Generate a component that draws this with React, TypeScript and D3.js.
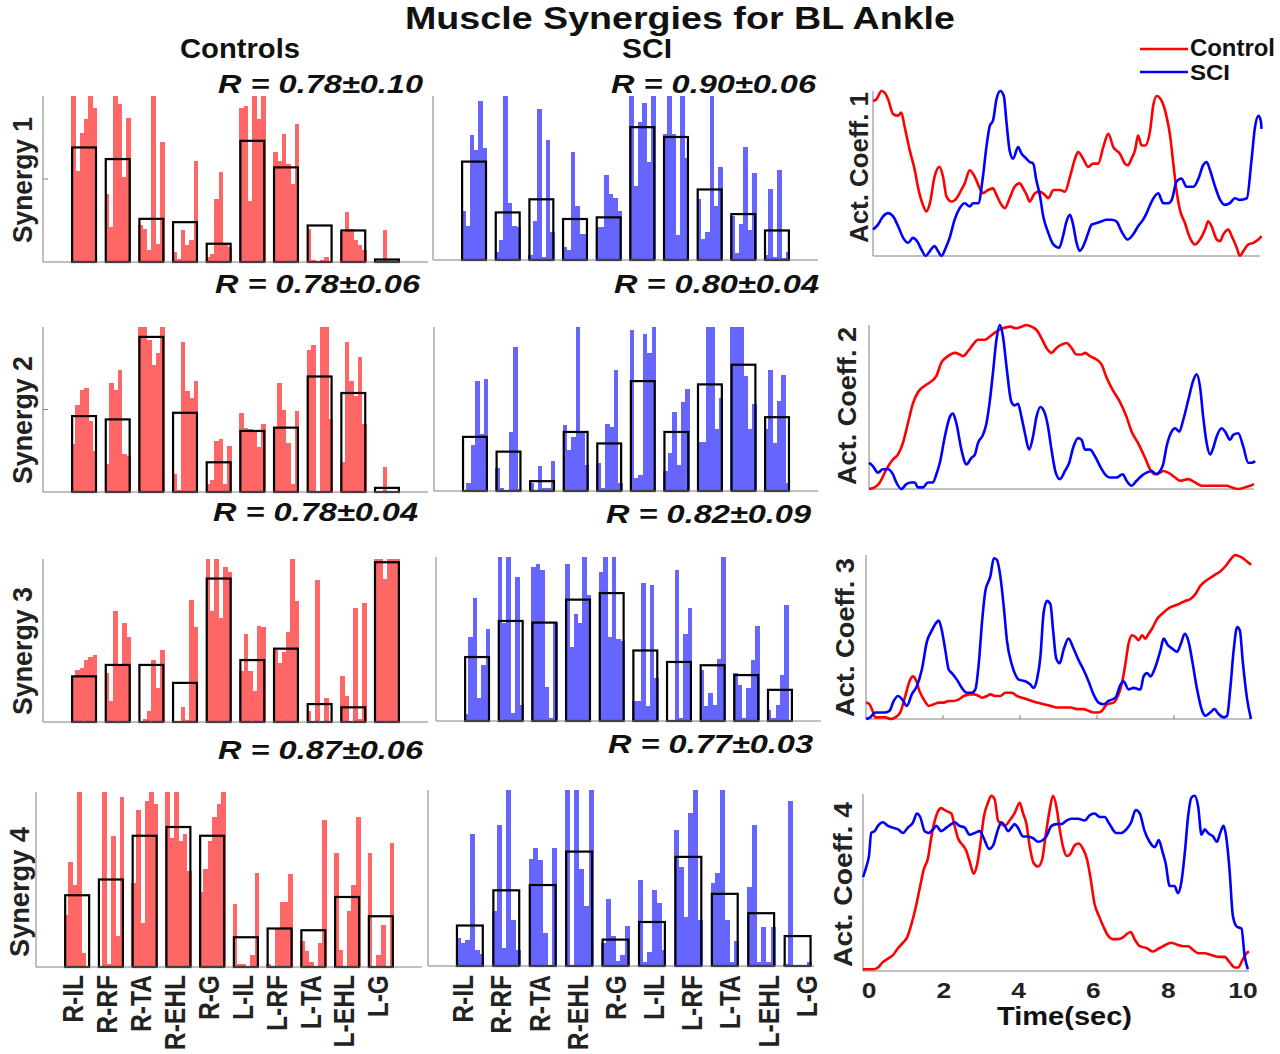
import React from 'react';
import * as d3 from 'd3';

type Pt = [number, number];

const muscles = ['R-IL', 'R-RF', 'R-TA', 'R-EHL', 'R-G', 'L-IL', 'L-RF', 'L-TA', 'L-EHL', 'L-G'];
const timeTicks = [0, 2, 4, 6, 8, 10];

// Mean synergy weights (black outlined bars)
const ctrlMeanS1 = [0.69, 0.62, 0.26, 0.24, 0.11, 0.73, 0.57, 0.22, 0.19, 0.015];
const ctrlMeanS2 = [0.46, 0.44, 0.94, 0.48, 0.18, 0.37, 0.39, 0.70, 0.60, 0.025];
const ctrlMeanS3 = [0.28, 0.35, 0.35, 0.24, 0.88, 0.38, 0.45, 0.11, 0.09, 0.98];
const ctrlMeanS4 = [0.41, 0.50, 0.75, 0.80, 0.75, 0.17, 0.22, 0.21, 0.40, 0.29];
const sciMeanS1 = [0.60, 0.29, 0.37, 0.25, 0.26, 0.81, 0.75, 0.43, 0.28, 0.18];
const sciMeanS2 = [0.33, 0.24, 0.06, 0.36, 0.29, 0.67, 0.36, 0.65, 0.77, 0.45];
const sciMeanS3 = [0.39, 0.61, 0.60, 0.74, 0.78, 0.43, 0.36, 0.34, 0.28, 0.19];
const sciMeanS4 = [0.23, 0.43, 0.46, 0.65, 0.15, 0.25, 0.62, 0.41, 0.30, 0.17];

// Individual subject weights (6 per muscle)
const ctrlSubjS1 = [
  [1.0, 0.55, 0.78, 0.86, 1.0, 0.93], [0.41, 0.21, 1.0, 0.95, 0.51, 0.87], [0.22, 0.2, 0.07, 1.0, 0.11, 0.72],
  [0.06, 0.02, 0.19, 0.1, 0.13, 0.61], [0.03, 0.05, 0.38, 0.54, 0.11, 0.09], [0.93, 0.94, 0.37, 1.0, 0.86, 1.0],
  [0.66, 0.61, 0.77, 0.59, 0.47, 0.83], [0.2, 0.01, 0.0, 0.01, 0.03, 0.0], [0.18, 0.3, 0.2, 0.13, 0.1, 0.07],
  [0.0, 0.0, 0.19, 0.0, 0.0, 0.0],
];
const ctrlSubjS2 = [
  [0.29, 0.53, 0.62, 0.63, 0.43, 0.25], [0.17, 0.66, 0.62, 0.74, 0.23, 0.22], [1.0, 1.0, 0.92, 0.77, 0.84, 1.0],
  [0.11, 0.01, 0.91, 0.61, 0.57, 0.67], [0.05, 0.07, 0.31, 0.32, 0.05, 0.28], [0.48, 0.39, 0.38, 0.37, 0.27, 0.41],
  [0.39, 0.66, 0.5, 0.3, 0.05, 0.49], [0.86, 0.89, 0.0, 1.0, 1.0, 0.44], [0.18, 0.91, 0.67, 0.58, 0.82, 0.41],
  [0.0, 0.0, 0.15, 0.0, 0.0, 0.0],
];
const ctrlSubjS3 = [
  [0.28, 0.32, 0.33, 0.38, 0.4, 0.41], [0.3, 0.13, 0.68, 0.35, 0.61, 0.52], [0.0, 0.02, 0.07, 0.38, 0.21, 0.44],
  [0.0, 0.0, 0.09, 0.01, 0.75, 0.58], [1.0, 0.68, 1.0, 0.64, 0.95, 0.92], [0.31, 0.54, 0.31, 0.19, 0.59, 0.58],
  [0.44, 0.36, 0.43, 0.55, 1.0, 0.74], [0.07, 0.0, 0.87, 0.0, 0.15, 0.0], [0.28, 0.16, 0.0, 0.7, 0.02, 0.73],
  [1.0, 1.0, 0.88, 1.0, 1.0, 1.0],
];
const ctrlSubjS4 = [
  [0.3, 0.6, 0.47, 1.0, 0.08, 0.0], [0.0, 1.0, 0.02, 0.75, 0.18, 0.97], [0.48, 0.9, 0.25, 0.95, 1.0, 0.93],
  [1.0, 0.74, 1.0, 0.72, 0.76, 0.55], [0.43, 0.56, 0.72, 0.86, 0.93, 1.0], [0.36, 0.02, 0.02, 0.0, 0.07, 0.54],
  [0.02, 0.0, 0.22, 0.37, 0.37, 0.53], [0.15, 0.09, 0.03, 0.0, 0.14, 0.84], [0.65, 0.1, 0.0, 0.32, 0.47, 0.86],
  [0.65, 0.0, 0.07, 0.24, 0.0, 0.71],
];
const sciSubjS1 = [
  [0.3, 0.21, 0.76, 0.67, 0.97, 0.68], [0.05, 0.12, 1.0, 0.35, 0.21, 0.2], [0.03, 0.24, 0.92, 0.02, 0.73, 0.17],
  [0.08, 0.06, 0.66, 0.33, 0.16, 0.16], [0.2, 0.2, 0.52, 0.4, 0.38, 0.3], [1.0, 0.45, 0.84, 0.96, 0.6, 1.0],
  [0.77, 1.0, 0.77, 0.15, 1.0, 0.62], [0.37, 0.13, 0.17, 1.0, 0.33, 0.57], [0.27, 0.04, 0.22, 0.69, 0.18, 0.53],
  [0.03, 0.43, 0.02, 0.55, 0.01, 0.05],
];
const sciSubjS2 = [
  [0.0, 0.05, 0.28, 0.67, 0.35, 0.68], [0.14, 0.02, 0.0, 0.36, 0.88, 0.01], [0.05, 0.0, 0.15, 0.02, 0.02, 0.18],
  [0.4, 0.25, 0.33, 1.0, 0.36, 0.16], [0.17, 0.02, 0.41, 0.39, 0.74, 0.05], [0.98, 0.08, 0.1, 0.96, 0.84, 1.0],
  [0.12, 0.23, 0.48, 0.16, 0.54, 0.62], [0.3, 0.3, 1.0, 1.0, 0.38, 0.57], [1.0, 1.0, 1.0, 0.7, 0.38, 0.53],
  [0.38, 0.74, 0.29, 0.55, 0.71, 0.05],
];
const sciSubjS3 = [
  [0.04, 0.51, 0.75, 0.14, 0.34, 0.56], [1.0, 0.6, 1.0, 0.05, 0.88, 0.1], [0.94, 0.96, 0.92, 0.21, 0.02, 0.6],
  [0.96, 0.45, 0.65, 0.6, 1.0, 0.77], [0.91, 1.0, 0.51, 1.0, 0.5, 0.49], [0.12, 0.12, 0.84, 0.09, 0.83, 0.26],
  [0.0, 0.0, 0.92, 0.02, 0.53, 0.69], [0.31, 0.09, 0.17, 0.1, 0.38, 1.0], [0.29, 0.22, 0.02, 0.2, 0.37, 0.58],
  [0.07, 0.02, 0.1, 0.28, 0.71, 0.0],
];
const sciSubjS4 = [
  [0.16, 0.13, 0.15, 0.75, 0.09, 0.07], [0.31, 0.8, 0.1, 1.0, 0.26, 0.09], [0.61, 0.67, 0.6, 0.19, 0.0, 0.67],
  [1.0, 0.0, 1.0, 0.55, 0.34, 1.0], [0.13, 0.38, 0.17, 0.03, 0.06, 0.23], [0.49, 0.02, 0.08, 0.43, 0.36, 0.09],
  [0.77, 0.56, 0.28, 0.87, 1.0, 0.26], [0.47, 0.53, 1.0, 0.26, 0.02, 0.14], [0.45, 0.8, 0.02, 0.22, 0.02, 0.22],
  [0.01, 0.94, 0.0, 0.0, 0.0, 0.02],
];

// Correlation labels
const rTexts = ['R = 0.78±0.10', 'R = 0.90±0.06', 'R = 0.78±0.06', 'R = 0.80±0.04', 'R = 0.78±0.04', 'R = 0.82±0.09', 'R = 0.87±0.06', 'R = 0.77±0.03'];

// Activation coefficients [time (s), normalized]
const ctrlAct1: Pt[] = [[0,0.94],[0.09,0.95],[0.22,1.0],[0.30,0.99],[0.39,0.95],[0.52,0.86],[0.65,0.85],[0.73,0.87],[0.82,0.78],[0.95,0.64],[1.08,0.52],[1.16,0.42],[1.29,0.31],[1.38,0.27],[1.47,0.32],[1.59,0.48],[1.72,0.54],[1.81,0.48],[1.90,0.36],[2.03,0.33],[2.16,0.35],[2.28,0.40],[2.37,0.44],[2.50,0.52],[2.63,0.48],[2.76,0.41],[2.84,0.38],[2.97,0.40],[3.10,0.41],[3.19,0.37],[3.32,0.31],[3.41,0.29],[3.53,0.35],[3.66,0.42],[3.79,0.44],[3.88,0.41],[3.97,0.37],[4.05,0.33],[4.18,0.38],[4.31,0.39],[4.44,0.37],[4.53,0.35],[4.66,0.40],[4.83,0.40],[4.96,0.39],[5.09,0.48],[5.22,0.59],[5.30,0.63],[5.43,0.59],[5.56,0.54],[5.69,0.56],[5.82,0.56],[5.95,0.66],[6.08,0.74],[6.21,0.66],[6.38,0.62],[6.51,0.56],[6.59,0.55],[6.68,0.59],[6.77,0.64],[6.85,0.73],[6.94,0.67],[7.03,0.67],[7.16,0.76],[7.24,0.91],[7.33,0.97],[7.46,0.94],[7.59,0.84],[7.67,0.74],[7.76,0.56],[7.84,0.40],[7.93,0.28],[8.06,0.20],[8.19,0.11],[8.32,0.07],[8.45,0.10],[8.58,0.16],[8.66,0.21],[8.75,0.18],[8.88,0.10],[8.97,0.09],[9.05,0.13],[9.18,0.16],[9.27,0.12],[9.40,0.05],[9.48,0.0],[9.57,0.03],[9.70,0.07],[9.83,0.08],[9.96,0.10],[10.04,0.12]];
const sciAct1: Pt[] = [[0,0.16],[0.13,0.19],[0.26,0.24],[0.39,0.26],[0.52,0.24],[0.65,0.18],[0.78,0.11],[0.91,0.08],[1.03,0.11],[1.14,0.09],[1.25,0.04],[1.36,0.0],[1.47,0.03],[1.59,0.06],[1.68,0.03],[1.77,0.0],[1.88,0.05],[1.98,0.11],[2.11,0.22],[2.24,0.29],[2.37,0.32],[2.50,0.30],[2.59,0.32],[2.72,0.32],[2.84,0.48],[2.93,0.66],[3.02,0.79],[3.10,0.82],[3.19,0.95],[3.29,1.0],[3.38,0.97],[3.45,0.81],[3.53,0.64],[3.62,0.59],[3.75,0.66],[3.84,0.62],[3.92,0.60],[4.05,0.57],[4.14,0.56],[4.22,0.46],[4.31,0.37],[4.40,0.24],[4.53,0.14],[4.66,0.07],[4.81,0.05],[4.91,0.12],[5.00,0.21],[5.09,0.25],[5.17,0.19],[5.26,0.08],[5.34,0.03],[5.47,0.08],[5.56,0.14],[5.65,0.19],[5.78,0.20],[5.91,0.21],[6.03,0.22],[6.16,0.22],[6.29,0.21],[6.42,0.15],[6.58,0.10],[6.72,0.13],[6.85,0.18],[6.98,0.22],[7.07,0.26],[7.20,0.33],[7.37,0.38],[7.50,0.32],[7.63,0.32],[7.72,0.34],[7.84,0.45],[7.97,0.47],[8.10,0.42],[8.28,0.42],[8.41,0.47],[8.53,0.55],[8.62,0.57],[8.71,0.52],[8.84,0.42],[8.97,0.34],[9.09,0.31],[9.22,0.32],[9.35,0.35],[9.48,0.34],[9.66,0.35],[9.78,0.58],[9.87,0.78],[9.96,0.85],[10.02,0.82],[10.04,0.77]];
const ctrlAct2: Pt[] = [[0,0],[0.15,0.01],[0.28,0.04],[0.45,0.12],[0.62,0.18],[0.75,0.21],[0.88,0.28],[1.01,0.40],[1.14,0.52],[1.27,0.59],[1.45,0.63],[1.58,0.65],[1.75,0.69],[1.88,0.77],[2.05,0.81],[2.23,0.83],[2.36,0.82],[2.44,0.81],[2.57,0.84],[2.70,0.88],[2.83,0.91],[3.01,0.91],[3.14,0.93],[3.31,0.96],[3.48,0.98],[3.66,0.99],[3.83,0.98],[3.96,0.99],[4.09,1.0],[4.22,0.99],[4.35,0.97],[4.48,0.92],[4.61,0.86],[4.74,0.83],[4.87,0.86],[5.00,0.88],[5.13,0.89],[5.26,0.86],[5.39,0.82],[5.52,0.82],[5.61,0.83],[5.74,0.81],[5.91,0.79],[6.04,0.76],[6.17,0.68],[6.34,0.60],[6.52,0.53],[6.69,0.44],[6.82,0.35],[6.99,0.28],[7.17,0.19],[7.30,0.12],[7.43,0.09],[7.56,0.10],[7.64,0.11],[7.77,0.10],[7.95,0.07],[8.08,0.05],[8.29,0.06],[8.47,0.04],[8.64,0.02],[8.81,0.02],[9.03,0.02],[9.29,0.02],[9.42,0.01],[9.59,0.0],[9.77,0.01],[9.90,0.02],[10.0,0.03]];
const sciAct2: Pt[] = [[0,0.16],[0.10,0.14],[0.23,0.10],[0.36,0.12],[0.49,0.12],[0.62,0.09],[0.71,0.04],[0.84,0.0],[0.97,0.03],[1.10,0.04],[1.19,0.04],[1.27,0.01],[1.40,0.01],[1.53,0.04],[1.66,0.04],[1.75,0.09],[1.84,0.16],[1.97,0.32],[2.10,0.44],[2.18,0.46],[2.27,0.40],[2.40,0.24],[2.53,0.15],[2.66,0.19],[2.75,0.21],[2.83,0.28],[2.96,0.33],[3.05,0.40],[3.14,0.54],[3.22,0.71],[3.31,0.91],[3.40,1.0],[3.48,0.93],[3.57,0.75],[3.70,0.53],[3.79,0.51],[3.87,0.52],[3.96,0.44],[4.05,0.34],[4.16,0.24],[4.26,0.32],[4.35,0.44],[4.45,0.50],[4.57,0.46],[4.65,0.38],[4.74,0.24],[4.85,0.10],[4.96,0.06],[5.09,0.11],[5.20,0.16],[5.30,0.25],[5.43,0.31],[5.52,0.30],[5.61,0.24],[5.74,0.24],[5.87,0.20],[6.00,0.14],[6.13,0.09],[6.26,0.07],[6.43,0.07],[6.59,0.09],[6.69,0.05],[6.82,0.02],[6.95,0.05],[7.08,0.08],[7.21,0.10],[7.34,0.11],[7.47,0.09],[7.56,0.11],[7.64,0.15],[7.73,0.26],[7.86,0.35],[7.95,0.37],[8.06,0.35],[8.16,0.42],[8.29,0.54],[8.42,0.66],[8.51,0.70],[8.60,0.62],[8.68,0.44],[8.77,0.28],[8.86,0.21],[8.94,0.25],[9.03,0.32],[9.16,0.37],[9.25,0.35],[9.38,0.30],[9.46,0.33],[9.59,0.34],[9.72,0.26],[9.85,0.16],[9.94,0.16],[10.03,0.17]];
const ctrlAct3: Pt[] = [[0,0.10],[0.09,0.09],[0.17,0.05],[0.24,0.01],[0.37,0.01],[0.50,0.01],[0.65,0.0],[0.76,0.01],[0.89,0.04],[1.02,0.14],[1.13,0.23],[1.22,0.26],[1.31,0.23],[1.39,0.17],[1.50,0.12],[1.63,0.08],[1.76,0.09],[1.89,0.10],[2.02,0.10],[2.15,0.11],[2.28,0.11],[2.41,0.12],[2.54,0.14],[2.67,0.15],[2.80,0.15],[2.93,0.14],[3.01,0.13],[3.14,0.14],[3.23,0.15],[3.36,0.14],[3.49,0.14],[3.62,0.16],[3.79,0.16],[3.92,0.14],[4.05,0.13],[4.18,0.12],[4.31,0.11],[4.44,0.10],[4.61,0.09],[4.79,0.08],[4.96,0.07],[5.13,0.07],[5.31,0.07],[5.48,0.06],[5.65,0.06],[5.78,0.05],[5.91,0.04],[6.04,0.04],[6.13,0.05],[6.26,0.09],[6.43,0.10],[6.56,0.15],[6.65,0.22],[6.74,0.34],[6.82,0.46],[6.91,0.51],[7.00,0.50],[7.08,0.48],[7.17,0.51],[7.26,0.49],[7.34,0.52],[7.43,0.55],[7.56,0.61],[7.73,0.65],[7.90,0.68],[8.12,0.70],[8.29,0.72],[8.42,0.73],[8.55,0.76],[8.68,0.81],[8.81,0.84],[8.94,0.86],[9.07,0.88],[9.20,0.90],[9.33,0.93],[9.46,0.97],[9.59,1.0],[9.72,0.99],[9.85,0.97],[10.0,0.94]];
const sciAct3: Pt[] = [[0,0],[0.11,0.01],[0.24,0.04],[0.37,0.04],[0.50,0.04],[0.61,0.05],[0.72,0.11],[0.83,0.14],[0.94,0.12],[1.06,0.08],[1.19,0.15],[1.32,0.20],[1.45,0.30],[1.58,0.47],[1.71,0.54],[1.80,0.58],[1.89,0.60],[1.97,0.54],[2.06,0.42],[2.15,0.30],[2.23,0.28],[2.36,0.24],[2.49,0.19],[2.62,0.16],[2.75,0.16],[2.84,0.18],[2.93,0.34],[3.01,0.58],[3.10,0.78],[3.23,0.87],[3.32,0.98],[3.40,0.97],[3.49,0.87],[3.58,0.68],[3.66,0.48],[3.79,0.33],[3.88,0.27],[3.97,0.24],[4.14,0.23],[4.27,0.21],[4.35,0.19],[4.44,0.24],[4.53,0.38],[4.61,0.64],[4.70,0.72],[4.79,0.70],[4.86,0.54],[4.94,0.37],[5.03,0.34],[5.13,0.42],[5.26,0.49],[5.39,0.43],[5.52,0.36],[5.65,0.30],[5.78,0.23],[5.91,0.15],[6.04,0.10],[6.17,0.09],[6.30,0.11],[6.48,0.13],[6.61,0.21],[6.69,0.23],[6.82,0.18],[6.95,0.19],[7.13,0.18],[7.21,0.26],[7.30,0.28],[7.39,0.26],[7.52,0.32],[7.65,0.42],[7.73,0.49],[7.84,0.45],[7.95,0.43],[8.08,0.41],[8.18,0.46],[8.28,0.52],[8.38,0.47],[8.47,0.36],[8.60,0.18],[8.73,0.05],[8.81,0.02],[8.94,0.04],[9.05,0.06],[9.16,0.03],[9.29,0.01],[9.38,0.02],[9.46,0.18],[9.55,0.42],[9.64,0.56],[9.71,0.54],[9.79,0.34],[9.90,0.12],[10.0,0.0]];
const ctrlAct4: Pt[] = [[-0.16,0.01],[-0.03,0.01],[0.11,0.01],[0.24,0.02],[0.37,0.05],[0.51,0.07],[0.64,0.09],[0.78,0.13],[0.91,0.16],[1.02,0.19],[1.13,0.26],[1.25,0.36],[1.35,0.46],[1.46,0.57],[1.58,0.64],[1.67,0.76],[1.76,0.85],[1.84,0.90],[1.93,0.92],[2.02,0.91],[2.11,0.90],[2.20,0.89],[2.29,0.82],[2.38,0.75],[2.51,0.71],[2.60,0.68],[2.69,0.62],[2.80,0.55],[2.89,0.60],[2.98,0.72],[3.07,0.87],[3.18,0.95],[3.27,0.99],[3.36,0.97],[3.45,0.85],[3.54,0.83],[3.63,0.82],[3.76,0.85],[3.89,0.89],[4.03,0.95],[4.12,0.89],[4.21,0.83],[4.30,0.70],[4.40,0.61],[4.52,0.59],[4.63,0.63],[4.72,0.76],[4.83,0.91],[4.92,0.99],[5.01,0.93],[5.10,0.80],[5.19,0.70],[5.29,0.65],[5.38,0.66],[5.50,0.71],[5.61,0.72],[5.72,0.69],[5.83,0.63],[5.92,0.53],[6.03,0.38],[6.15,0.31],[6.27,0.25],[6.39,0.20],[6.51,0.18],[6.66,0.18],[6.79,0.19],[6.90,0.21],[7.00,0.22],[7.10,0.18],[7.24,0.14],[7.42,0.13],[7.59,0.11],[7.77,0.13],[7.95,0.15],[8.08,0.16],[8.22,0.15],[8.40,0.14],[8.53,0.14],[8.66,0.12],[8.80,0.10],[8.97,0.10],[9.15,0.09],[9.33,0.08],[9.51,0.08],[9.64,0.05],[9.78,0.02],[9.87,0.02],[9.98,0.06],[10.09,0.10],[10.16,0.11]];
const sciAct4: Pt[] = [[-0.16,0.53],[-0.07,0.59],[0.0,0.65],[0.06,0.78],[0.15,0.79],[0.24,0.82],[0.37,0.84],[0.51,0.82],[0.64,0.81],[0.78,0.80],[0.91,0.78],[1.04,0.81],[1.18,0.84],[1.28,0.89],[1.37,0.87],[1.49,0.79],[1.60,0.78],[1.71,0.80],[1.80,0.82],[1.93,0.79],[2.07,0.81],[2.20,0.83],[2.29,0.84],[2.42,0.82],[2.56,0.81],[2.69,0.77],[2.83,0.78],[2.96,0.79],[3.07,0.75],[3.21,0.69],[3.32,0.71],[3.45,0.80],[3.54,0.84],[3.63,0.82],[3.72,0.79],[3.81,0.81],[3.89,0.83],[3.98,0.81],[4.12,0.76],[4.25,0.76],[4.39,0.75],[4.52,0.73],[4.65,0.74],[4.74,0.76],[4.88,0.82],[5.01,0.83],[5.14,0.83],[5.28,0.85],[5.41,0.86],[5.59,0.86],[5.77,0.85],[5.90,0.88],[6.03,0.89],[6.17,0.87],[6.30,0.87],[6.43,0.83],[6.61,0.78],[6.75,0.78],[6.88,0.80],[7.01,0.84],[7.13,0.91],[7.24,0.89],[7.37,0.79],[7.50,0.73],[7.64,0.70],[7.75,0.74],[7.84,0.68],[7.93,0.61],[8.04,0.48],[8.17,0.48],[8.26,0.44],[8.35,0.50],[8.44,0.66],[8.53,0.87],[8.62,0.98],[8.71,0.99],[8.80,0.93],[8.89,0.77],[8.98,0.80],[9.06,0.78],[9.20,0.76],[9.30,0.73],[9.39,0.78],[9.48,0.82],[9.55,0.76],[9.64,0.57],[9.73,0.31],[9.84,0.25],[9.96,0.24],[10.04,0.09],[10.13,0.01]];

const FONT = '"Liberation Sans", Arial, Helvetica, sans-serif';
const RED_BAR = '#ff6666';
const BLUE_BAR = '#6666ff';
const AXIS = '#808080';

type BarProps = {
  x0: number; x1: number; yTop: number; yBase: number; domain: [number, number];
  means: number[]; subj: number[][]; color: string; yTick?: boolean; xTicks?: boolean;
};

function BarPanel({ x0, x1, yTop, yBase, domain, means, subj, color, yTick, xTicks }: BarProps) {
  const x = d3.scaleLinear().domain(domain).range([x0, x1]);
  const y = d3.scaleLinear().domain([0, 1]).range([yBase, yTop]);
  const gw = 0.78;
  const n = 6;
  const bw = gw / n;
  const half = 0.355;
  return (
    <g>
      {subj.map((vals, i) =>
        vals.map((v, j) => {
          const s = i + 1 - gw / 2 + j * bw;
          return (
            <rect key={`s${i}-${j}`} x={x(s)} width={x(s + bw) - x(s) + 0.3} y={y(v)} height={Math.max(0, y(0) - y(v))}
              fill={color} shapeRendering="crispEdges" />
          );
        })
      )}
      {means.map((m, i) => (
        <rect key={`m${i}`} x={x(i + 1 - half)} y={y(m)} width={x(i + 1 + half) - x(i + 1 - half)}
          height={y(0) - y(m)} fill="none" stroke="#000" strokeWidth={2.2} />
      ))}
      {xTicks && means.map((_, i) => (
        <line key={`t${i}`} x1={x(i + 1)} x2={x(i + 1)} y1={yBase} y2={yBase - 3} stroke={AXIS} />
      ))}
      <line x1={x0} x2={x1} y1={yBase} y2={yBase} stroke={AXIS} strokeWidth={1} />
      <line x1={x0} x2={x0} y1={yTop} y2={yBase} stroke={AXIS} strokeWidth={1} />
      {yTick && <line x1={x0} x2={x0 + 5} y1={y(0.5)} y2={y(0.5)} stroke={AXIS} />}
    </g>
  );
}

type LineProps = {
  x0: number; x1: number; yTop: number; yBase: number; domain: [number, number];
  ctrl: Pt[]; sci: Pt[]; ticks?: boolean; labels?: boolean;
};

function LinePanel({ x0, x1, yTop, yBase, domain, ctrl, sci, ticks, labels }: LineProps) {
  const x = d3.scaleLinear().domain(domain).range([x0, x1]);
  const y = d3.scaleLinear().domain([0, 1]).range([yBase, yTop]);
  const line = d3.line<Pt>().x((d) => x(d[0])).y((d) => y(d[1])).curve(d3.curveMonotoneX);
  return (
    <g>
      <line x1={x0} x2={x1} y1={yBase} y2={yBase} stroke={AXIS} />
      <line x1={x0} x2={x0} y1={yTop} y2={yBase} stroke={AXIS} />
      {ticks && timeTicks.filter((t) => t > 0 && t < 10).map((t) => (
        <line key={t} x1={x(t)} x2={x(t)} y1={yBase} y2={yBase - 4} stroke={AXIS} />
      ))}
      <path d={line(ctrl) || ''} fill="none" stroke="#ff0000" strokeWidth={2.6} strokeLinejoin="round" />
      <path d={line(sci) || ''} fill="none" stroke="#0000ff" strokeWidth={2.6} strokeLinejoin="round" />
      {labels && timeTicks.map((t) => (
        <text key={`l${t}`} transform={`translate(${x(t)},998) scale(1.2,1)`} textAnchor="middle"
          fontFamily={FONT} fontWeight="bold" fontSize={22} fill="#222">{t}</text>
      ))}
    </g>
  );
}

function RotText({ x, y, len, size, text }: { x: number; y: number; len: number; size: number; text: string }) {
  return (
    <text transform={`translate(${x},${y}) rotate(-90)`} fontFamily={FONT} fontWeight="bold" fontSize={size}
      textLength={len} lengthAdjust="spacingAndGlyphs" fill="#222">{text}</text>
  );
}

function HText({ x, y, len, size, text, italic }: { x: number; y: number; len: number; size: number; text: string; italic?: boolean }) {
  return (
    <text x={x} y={y} fontFamily={FONT} fontWeight="bold" fontStyle={italic ? 'italic' : 'normal'} fontSize={size}
      textLength={len} lengthAdjust="spacingAndGlyphs" fill="#111">{text}</text>
  );
}

export default function App() {
  const D: [number, number] = [-0.22, 11.22];
  const labelLeft = d3.scalePoint<string>().domain(muscles).range([72.5, 377.5]);
  const labelMid = d3.scalePoint<string>().domain(muscles).range([462.5, 806]);
  const rPos = [
    [218, 93], [611, 93], [215, 293], [614, 293], [213, 521], [606, 523], [218, 759], [608, 753],
  ];
  return (
    <svg width={1280} height={1054} style={{ position: 'absolute', left: 0, top: 0, background: '#fff' }}>
      <rect x={0} y={0} width={1280} height={1054} fill="#fff" />
      <HText x={405} y={29} len={550} size={31} text="Muscle Synergies for BL Ankle" />
      <HText x={180} y={58} len={120} size={27} text="Controls" />
      <HText x={622} y={58} len={50} size={27} text="SCI" />

      {/* Legend */}
      <line x1={1140} x2={1188} y1={49} y2={49} stroke="#ff0000" strokeWidth={2.6} />
      <line x1={1140} x2={1188} y1={72} y2={72} stroke="#0000ff" strokeWidth={2.6} />
      <HText x={1190} y={56} len={85} size={23} text="Control" />
      <HText x={1190} y={80} len={40} size={22} text="SCI" />

      {/* Controls */}
      <BarPanel x0={43} x1={428} yTop={96} yBase={262} domain={D} means={ctrlMeanS1} subj={ctrlSubjS1} color={RED_BAR} yTick />
      <BarPanel x0={43} x1={428} yTop={327} yBase={492} domain={D} means={ctrlMeanS2} subj={ctrlSubjS2} color={RED_BAR} yTick />
      <BarPanel x0={43} x1={428} yTop={559} yBase={722} domain={D} means={ctrlMeanS3} subj={ctrlSubjS3} color={RED_BAR} xTicks />
      <BarPanel x0={36} x1={422} yTop={792} yBase={967} domain={D} means={ctrlMeanS4} subj={ctrlSubjS4} color={RED_BAR} />

      {/* SCI */}
      <BarPanel x0={433} x1={818} yTop={96} yBase={260} domain={D} means={sciMeanS1} subj={sciSubjS1} color={BLUE_BAR} />
      <BarPanel x0={434} x1={818} yTop={327} yBase={491} domain={D} means={sciMeanS2} subj={sciSubjS2} color={BLUE_BAR} />
      <BarPanel x0={436} x1={821} yTop={557} yBase={721} domain={D} means={sciMeanS3} subj={sciSubjS3} color={BLUE_BAR} />
      <BarPanel x0={428} x1={814} yTop={790} yBase={966} domain={[-0.15, 10.45]} means={sciMeanS4} subj={sciSubjS4} color={BLUE_BAR} />

      {/* Activation coefficients */}
      <LinePanel x0={873} x1={1260} yTop={91} yBase={256} domain={[0, 10]} ctrl={ctrlAct1} sci={sciAct1} />
      <LinePanel x0={869} x1={1254} yTop={325} yBase={489} domain={[0, 10]} ctrl={ctrlAct2} sci={sciAct2} />
      <LinePanel x0={866} x1={1251} yTop={555} yBase={719} domain={[0, 10]} ctrl={ctrlAct3} sci={sciAct3} ticks />
      <LinePanel x0={863} x1={1249} yTop={794} yBase={971} domain={[-0.16, 10.16]} ctrl={ctrlAct4} sci={sciAct4} labels />

      <HText x={997} y={1025} len={135} size={26} text="Time(sec)" />

      {/* R values */}
      {rTexts.map((t, i) => (
        <HText key={t + i} x={rPos[i][0]} y={rPos[i][1]} len={205} size={26} text={t} italic />
      ))}

      {/* Y labels */}
      <RotText x={32} y={243} len={126} size={28} text="Synergy 1" />
      <RotText x={32} y={484} len={128} size={28} text="Synergy 2" />
      <RotText x={32} y={715} len={128} size={28} text="Synergy 3" />
      <RotText x={29} y={957} len={130} size={28} text="Synergy 4" />
      <RotText x={868} y={243} len={151} size={25} text="Act. Coeff. 1" />
      <RotText x={856} y={485} len={158} size={25} text="Act. Coeff. 2" />
      <RotText x={854} y={717} len={159} size={25} text="Act. Coeff. 3" />
      <RotText x={852} y={967} len={165} size={25} text="Act. Coeff. 4" />

      {/* Muscle labels */}
      {muscles.map((m) => (
        <text key={'L' + m} transform={`translate(${(labelLeft(m) ?? 0) + 10.8},975) scale(1,0.82) rotate(-90)`}
          textAnchor="end" fontFamily={FONT} fontWeight="bold" fontSize={30} fill="#222">{m}</text>
      ))}
      {muscles.map((m) => (
        <text key={'M' + m} transform={`translate(${(labelMid(m) ?? 0) + 10.8},975) scale(1,0.82) rotate(-90)`}
          textAnchor="end" fontFamily={FONT} fontWeight="bold" fontSize={30} fill="#222">{m}</text>
      ))}
    </svg>
  );
}
